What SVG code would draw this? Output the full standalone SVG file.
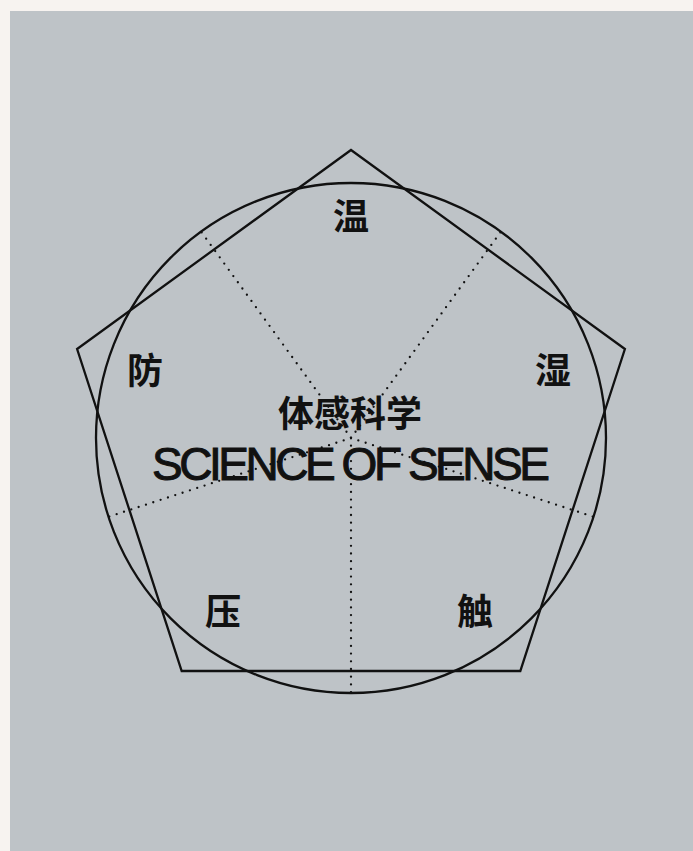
<svg xmlns="http://www.w3.org/2000/svg" width="693" height="851" viewBox="0 0 693 851">
  <style>
    .shape { fill: none; stroke: #111; stroke-width: 2.3; }
    .dot { fill: none; stroke: #111; stroke-width: 2.3; stroke-linecap: round; stroke-dasharray: 0 7.7; }
    .cjk { font-family: "Noto Sans CJK SC", "Noto Sans CJK JP", sans-serif; font-weight: 700; font-size: 36px; fill: #111; text-anchor: middle; }
    .en { font-family: "Liberation Sans", Arial, sans-serif; font-size: 46px; fill: #111; stroke: #111; stroke-width: 1; }
  </style>
  <rect x="0" y="0" width="693" height="851" fill="#f7f3f0"/>
  <rect x="10" y="11" width="683" height="840" fill="#bec3c7"/>
  <g id="frame">
    <circle id="circle" class="shape" cx="351" cy="438" r="255"/>
    <polygon id="pentagon" class="shape" points="351,150 624.9,349 520.3,671 181.7,671 77.1,349"/>
  </g>
  <g id="connectors">
    <line class="dot" x1="351" y1="438" x2="201.1" y2="231.7"/>
    <line class="dot" x1="351" y1="438" x2="500.9" y2="231.7"/>
    <line class="dot" x1="351" y1="438" x2="593.5" y2="516.8"/>
    <line class="dot" x1="351" y1="438" x2="108.5" y2="516.8"/>
    <line class="dot" x1="351" y1="438" x2="351" y2="693"/>
  </g>
  <g id="title">
    <text class="cjk" x="350" y="427">体感科学</text>
    <text class="en" x="152" y="480" textLength="398" lengthAdjust="spacing">SCIENCE OF SENSE</text>
  </g>
  <g id="node-wen"><text class="cjk" x="351" y="230">温</text></g>
  <g id="node-shi"><text class="cjk" x="553" y="384">湿</text></g>
  <g id="node-fang"><text class="cjk" x="145" y="384">防</text></g>
  <g id="node-ya"><text class="cjk" x="223" y="625">压</text></g>
  <g id="node-chu"><text class="cjk" x="475" y="625">触</text></g>
</svg>
